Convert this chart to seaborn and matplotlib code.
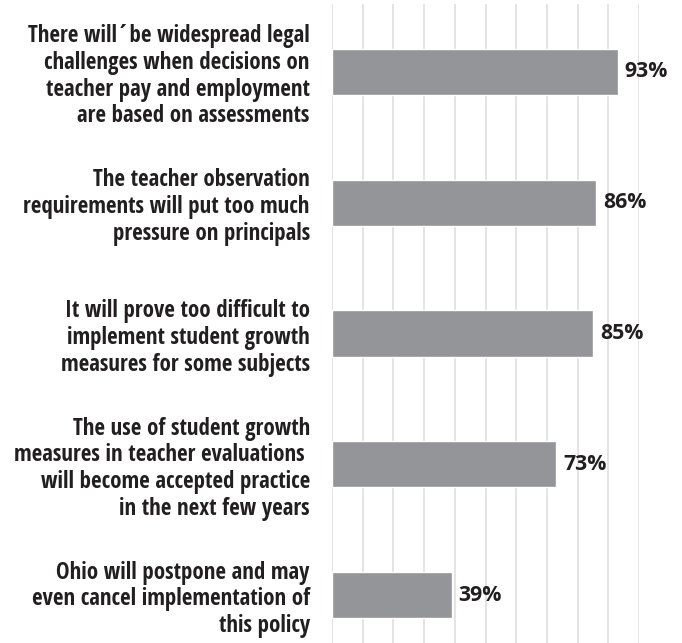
import matplotlib
matplotlib.use("Agg")
import matplotlib.pyplot as plt
import seaborn as sns
import pandas as pd

# Survey statements and share of respondents agreeing
statements = [
    "There will\u00b4be widespread legal\nchallenges when decisions on\nteacher pay and employment\nare based on assessments",
    "The teacher observation\nrequirements will put too much\npressure on principals",
    "It will prove too difficult to\nimplement student growth\nmeasures for some subjects",
    "The use of student growth\nmeasures in teacher evaluations \nwill become accepted practice\nin the next few years",
    "Ohio will postpone and may\neven cancel implementation of\nthis policy",
]
percent = [93, 86, 85, 73, 39]
value_labels = ["93%", "86%", "85%", "73%", "39%"]
grid_ticks = [0, 10, 20, 30, 40, 50, 60, 70, 80, 90, 100]

df = pd.DataFrame({"statement": statements, "percent": percent})

sns.set_theme(style="white")
plt.rcParams["font.family"] = ["Open Sans Condensed", "DejaVu Sans"]

fig = plt.figure(figsize=(6.82, 6.43), dpi=100)
ax = fig.add_axes([332 / 682, 0.0, 307 / 682, 639 / 643])

sns.barplot(data=df, x="percent", y="statement", orient="h",
            color="#939598", saturation=1, width=0.352, ax=ax)

ax.set_xlim(0, 100)
ax.set_ylim(4.367, -0.52)
ax.set_xticks(grid_ticks)
ax.set_xticklabels([])
ax.xaxis.grid(True, color="#e4e4e4", linewidth=1.4)
ax.set_axisbelow(True)
ax.tick_params(axis="both", length=0)
ax.tick_params(axis="y", pad=16)
for s in ax.spines.values():
    s.set_visible(False)
ax.set_xlabel("")
ax.set_ylabel("")

for lbl in ax.get_yticklabels():
    lbl.set_fontsize(16.5)
    lbl.set_fontweight("bold")
    lbl.set_color("#231f20")
    lbl.set_linespacing(1.15)
    lbl.set_horizontalalignment("right")

ax.bar_label(ax.containers[0], labels=value_labels, padding=5,
             fontsize=15.3, fontweight="bold", color="#231f20",
             family=["Open Sans", "DejaVu Sans"])

fig.savefig("out.png", dpi=100)
